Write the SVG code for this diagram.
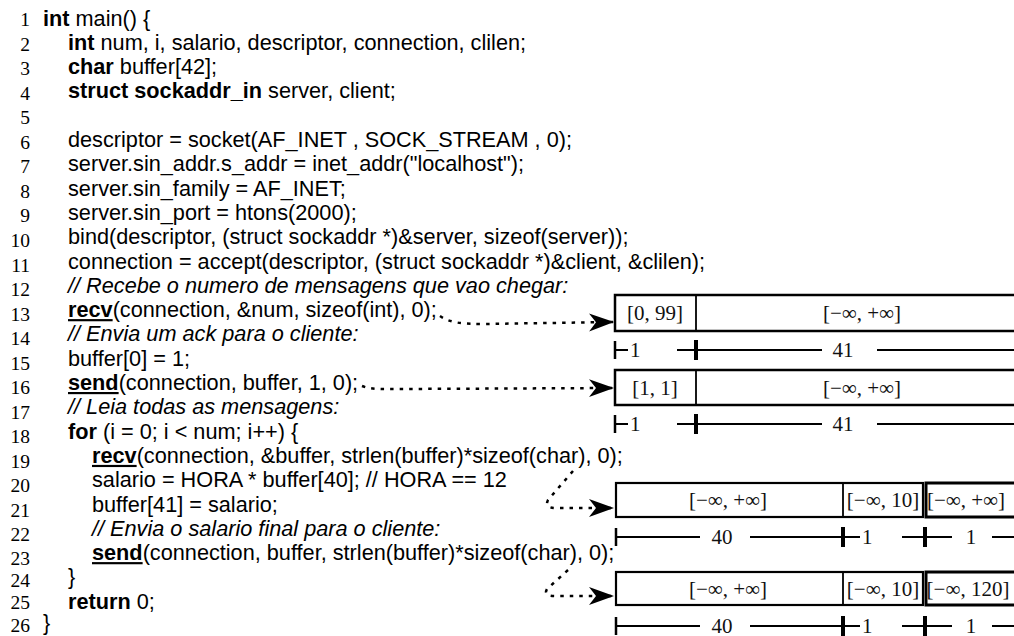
<svg xmlns="http://www.w3.org/2000/svg" width="1014" height="636" viewBox="0 0 1014 636">
<defs>
<style>
.c{font-family:"Liberation Sans",Arial,sans-serif;font-size:21.7px;fill:#000}
.n{font-family:"Liberation Serif","Times New Roman",serif;font-size:19.5px;fill:#000;text-anchor:end}
.b{font-weight:bold}
.u{font-weight:bold;text-decoration:underline}
.i{font-style:italic}
.l{font-family:"Liberation Serif","Times New Roman",serif;font-size:21px;fill:#111;text-anchor:middle}
.d{font-family:"Liberation Serif","Times New Roman",serif;font-size:21px;fill:#111}
.box{fill:#fff;stroke:#000;stroke-width:2.5}
.div{stroke:#000;stroke-width:1.8}
.dim{stroke:#000;stroke-width:2}
.tk{stroke:#000;stroke-width:4}
.tk0{stroke:#000;stroke-width:2.5}
.con{fill:none;stroke:#000;stroke-width:2.5;stroke-dasharray:3.5 6}
</style>
<marker id="ah" markerUnits="userSpaceOnUse" markerWidth="26" markerHeight="20" refX="25" refY="9" orient="auto">
<path d="M0,0 L25,9 L0,18 L7,9 Z" fill="#000"/>
</marker>
</defs>
<rect width="1014" height="636" fill="#fff"/>
<g id="code">
<text class="n" x="30" y="26">1</text>
<text class="n" x="30" y="50.5">2</text>
<text class="n" x="30" y="75">3</text>
<text class="n" x="30" y="99.5">4</text>
<text class="n" x="30" y="124">5</text>
<text class="n" x="30" y="148.5">6</text>
<text class="n" x="30" y="173">7</text>
<text class="n" x="30" y="197.5">8</text>
<text class="n" x="30" y="222">9</text>
<text class="n" x="30" y="247">10</text>
<text class="n" x="30" y="271.5">11</text>
<text class="n" x="30" y="296">12</text>
<text class="n" x="30" y="320.5">13</text>
<text class="n" x="30" y="345">14</text>
<text class="n" x="30" y="369.5">15</text>
<text class="n" x="30" y="394">16</text>
<text class="n" x="30" y="418.5">17</text>
<text class="n" x="30" y="443">18</text>
<text class="n" x="30" y="467.5">19</text>
<text class="n" x="30" y="492">20</text>
<text class="n" x="30" y="516.5">21</text>
<text class="n" x="30" y="541">22</text>
<text class="n" x="30" y="564.5">23</text>
<text class="n" x="30" y="587">24</text>
<text class="n" x="30" y="609">25</text>
<text class="n" x="30" y="631.5">26</text>

<text class="c" x="43" y="25.5"><tspan class="b">int</tspan> main() {</text>
<text class="c" x="68" y="49.8"><tspan class="b">int</tspan> num, i, salario, descriptor, connection, clilen;</text>
<text class="c" x="68" y="74.1"><tspan class="b">char</tspan> buffer[42];</text>
<text class="c" x="68" y="98.4"><tspan class="b">struct sockaddr_in</tspan> server, client;</text>
<text class="c" x="68" y="147">descriptor = socket(AF_INET , SOCK_STREAM , 0);</text>
<text class="c" x="68" y="171.3">server.sin_addr.s_addr = inet_addr("localhost");</text>
<text class="c" x="68" y="195.6">server.sin_family = AF_INET;</text>
<text class="c" x="68" y="219.9">server.sin_port = htons(2000);</text>
<text class="c" x="68" y="244.2">bind(descriptor, (struct sockaddr *)&amp;server, sizeof(server));</text>
<text class="c" x="68" y="268.5">connection = accept(descriptor, (struct sockaddr *)&amp;client, &amp;clilen);</text>
<text class="c i" x="68" y="292.8">// Recebe o numero de mensagens que vao chegar:</text>
<text class="c" x="68" y="317.1"><tspan class="u">recv</tspan>(connection, &amp;num, sizeof(int), 0);</text>
<text class="c i" x="68" y="341.4">// Envia um ack para o cliente:</text>
<text class="c" x="68" y="365.7">buffer[0] = 1;</text>
<text class="c" x="68" y="390"><tspan class="u">send</tspan>(connection, buffer, 1, 0);</text>
<text class="c i" x="68" y="414.3">// Leia todas as mensagens:</text>
<text class="c" x="68" y="438.6"><tspan class="b">for</tspan> (i = 0; i &lt; num; i++) {</text>
<text class="c" x="92" y="462.9"><tspan class="u">recv</tspan>(connection, &amp;buffer, strlen(buffer)*sizeof(char), 0);</text>
<text class="c" x="92" y="487.2">salario = HORA * buffer[40]; // HORA == 12</text>
<text class="c" x="92" y="511.5">buffer[41] = salario;</text>
<text class="c i" x="92" y="535.8">// Envia o salario final para o cliente:</text>
<text class="c" x="92" y="560.1"><tspan class="u">send</tspan>(connection, buffer, strlen(buffer)*sizeof(char), 0);</text>
<text class="c" x="68" y="584.4">}</text>
<text class="c" x="68" y="608.7"><tspan class="b">return</tspan> 0;</text>
<text class="c" x="43" y="630">}</text>
</g>

<g id="connectors">
<path class="con" d="M440 316 C450 323 463 324 483 324 L614 322" marker-end="url(#ah)"/>
<path class="con" d="M362 386 C372 390 385 389 400 389 L614 388" marker-end="url(#ah)"/>
<path class="con" d="M573 471 L548 500 Q544 508 556 508 L614 508" marker-end="url(#ah)"/>
<path class="con" d="M568 570 L547 589 Q543 596 555 596 L614 596" marker-end="url(#ah)"/>
</g>

<g id="buf1">
<rect class="box" x="615" y="295" width="420" height="36"/>
<line class="div" x1="696" y1="295" x2="696" y2="331"/>
<text class="l" x="655" y="320">[0, 99]</text>
<text class="l" x="862" y="320">[−∞, +∞]</text>
<line class="tk0" x1="615" y1="341" x2="615" y2="359"/>
<line class="dim" x1="615" y1="350" x2="628" y2="350"/>
<text class="d" x="630" y="357">1</text>
<line class="dim" x1="677" y1="350" x2="822" y2="350"/>
<line class="tk" x1="696" y1="340" x2="696" y2="360"/>
<text class="l" x="843" y="357">41</text>
<line class="dim" x1="877" y1="350" x2="1014" y2="350"/>
</g>

<g id="buf2">
<rect class="box" x="615" y="370" width="420" height="35"/>
<line class="div" x1="696" y1="370" x2="696" y2="405"/>
<text class="l" x="655" y="395">[1, 1]</text>
<text class="l" x="862" y="395">[−∞, +∞]</text>
<line class="tk0" x1="615" y1="415" x2="615" y2="433"/>
<line class="dim" x1="615" y1="424" x2="628" y2="424"/>
<text class="d" x="630" y="431">1</text>
<line class="dim" x1="677" y1="424" x2="822" y2="424"/>
<line class="tk" x1="696" y1="414" x2="696" y2="434"/>
<text class="l" x="843" y="431">41</text>
<line class="dim" x1="877" y1="424" x2="1014" y2="424"/>
</g>

<g id="buf3">
<rect class="box" x="616" y="483" width="307" height="34" style="stroke-width:2.2"/>
<line class="div" x1="843" y1="483" x2="843" y2="517"/>
<rect class="box" x="926" y="483" width="110" height="34" style="stroke-width:3"/>
<text class="l" x="728" y="507">[−∞, +∞]</text>
<text class="l" x="883" y="507">[−∞, 10]</text>
<text class="l" x="966" y="507">[−∞, +∞]</text>
<line class="tk0" x1="616" y1="528" x2="616" y2="546"/>
<line class="dim" x1="616" y1="537" x2="700" y2="537"/>
<text class="l" x="722" y="544">40</text>
<line class="dim" x1="750" y1="537" x2="860" y2="537"/>
<line class="tk" x1="843" y1="527" x2="843" y2="547"/>
<text class="d" x="862" y="544">1</text>
<line class="dim" x1="902" y1="537" x2="952" y2="537"/>
<line class="tk" x1="925" y1="527" x2="925" y2="547"/>
<text class="l" x="971" y="544">1</text>
<line class="dim" x1="992" y1="537" x2="1014" y2="537"/>
</g>

<g id="buf4">
<rect class="box" x="616" y="572" width="307" height="33" style="stroke-width:2.2"/>
<line class="div" x1="843" y1="572" x2="843" y2="605"/>
<rect class="box" x="926" y="572" width="110" height="33" style="stroke-width:3"/>
<text class="l" x="728" y="596">[−∞, +∞]</text>
<text class="l" x="883" y="596">[−∞, 10]</text>
<text class="l" x="968" y="596">[−∞, 120]</text>
<line class="tk0" x1="616" y1="617" x2="616" y2="635"/>
<line class="dim" x1="616" y1="626" x2="700" y2="626"/>
<text class="l" x="722" y="633">40</text>
<line class="dim" x1="750" y1="626" x2="860" y2="626"/>
<line class="tk" x1="843" y1="616" x2="843" y2="636"/>
<text class="d" x="862" y="633">1</text>
<line class="dim" x1="902" y1="626" x2="952" y2="626"/>
<line class="tk" x1="925" y1="616" x2="925" y2="636"/>
<text class="l" x="971" y="633">1</text>
<line class="dim" x1="992" y1="626" x2="1014" y2="626"/>
</g>
</svg>
